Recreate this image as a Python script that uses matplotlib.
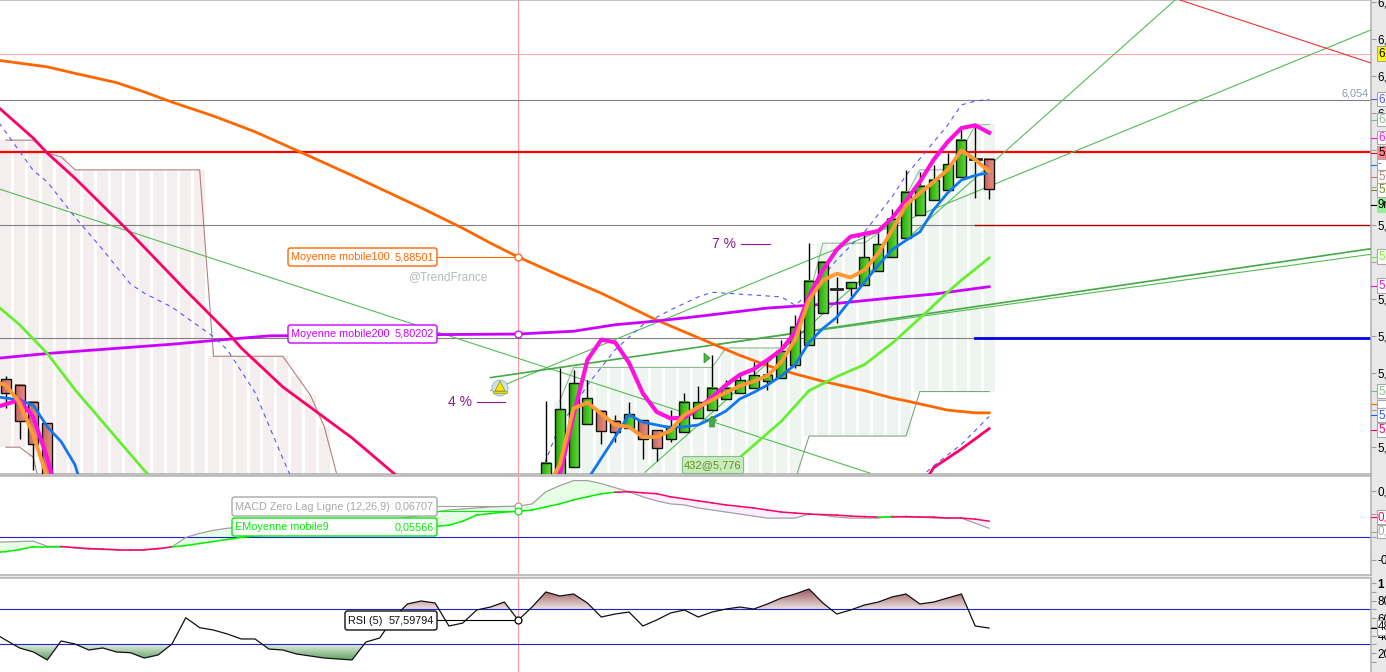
"""
Candles, moving averages, cloud, MACD and RSI panels
"""
import numpy as np
import matplotlib
matplotlib.use('Agg')
import matplotlib.pyplot as plt
from matplotlib.patches import FancyBboxPatch, Rectangle, Circle, Polygon
from matplotlib.colors import LinearSegmentedColormap
from matplotlib.path import Path

plt.rcParams['font.family'] = ['Liberation Sans', 'DejaVu Sans']

W, H = 1386, 672
X_END = 1371
BAR0 = 5.75
STEP = 13.85
CROSS = 37

# ---- candles
candle_idx = [0, 1, 2, 3] + list(range(39, 72))
candle_open = [5.7535, 5.747, 5.729, 5.706,
               5.612, 5.623, 5.659, 5.705, 5.719, 5.708, 5.701, 5.709, 5.698, 5.689, 5.696,
               5.712, 5.720, 5.732, 5.738, 5.744, 5.751, 5.755, 5.769, 5.790, 5.825, 5.850,
               5.852, 5.855, 5.870, 5.885, 5.905, 5.930, 5.946, 5.957, 5.971, 5.991, 5.991]
candle_high = [5.7567, 5.747, 5.729, 5.706,
               5.730, 5.765, 5.763, 5.752, 5.719, 5.715, 5.729, 5.709, 5.698, 5.720, 5.738,
               5.746, 5.779, 5.752, 5.758, 5.772, 5.772, 5.796, 5.823, 5.900, 5.880, 5.863,
               5.858, 5.912, 5.911, 5.937, 5.979, 5.977, 5.984, 5.997, 6.026, 6.026, 5.991]
candle_low = [5.7222, 5.689, 5.655, 5.612,
              5.600, 5.600, 5.659, 5.705, 5.683, 5.686, 5.701, 5.667, 5.665, 5.686, 5.696,
              5.712, 5.720, 5.732, 5.738, 5.744, 5.742, 5.755, 5.765, 5.790, 5.825, 5.814,
              5.843, 5.855, 5.870, 5.885, 5.905, 5.930, 5.946, 5.957, 5.971, 5.949, 5.948]
candle_close = [5.7385, 5.708, 5.683, 5.623,
                5.663, 5.721, 5.749, 5.733, 5.697, 5.696, 5.716, 5.689, 5.679, 5.703, 5.729,
                5.729, 5.744, 5.744, 5.752, 5.758, 5.758, 5.784, 5.810, 5.859, 5.880, 5.850,
                5.858, 5.885, 5.899, 5.926, 5.955, 5.962, 5.968, 5.985, 6.011, 5.991, 5.958]

# ---- moving averages (bar, price)
ma100_i = [-0.5, 3, 5, 8, 10, 12, 15, 18, 21, 25, 30, 33, 35, 37, 40, 43, 47, 50, 53, 55, 57, 59, 62, 64, 65, 68, 70, 71]
ma100 = [6.097, 6.090, 6.083, 6.073, 6.063, 6.052, 6.037, 6.020, 6.000, 5.973, 5.938, 5.916, 5.900, 5.885,
         5.865, 5.846, 5.817, 5.798, 5.779, 5.768, 5.759, 5.751, 5.741, 5.733, 5.730, 5.720, 5.717, 5.717]

ma200_i = [-0.5, 3, 12, 15, 19, 37, 41, 44, 47, 50, 55, 60, 64, 67, 71]
ma200 = [5.776, 5.781, 5.791, 5.795, 5.800, 5.802, 5.805, 5.812, 5.816, 5.821,
         5.830, 5.835, 5.841, 5.845, 5.853]

crimson_i = [-0.5, 2, 3, 5, 9, 13, 16, 17, 20, 22, 25, 28, 32, 40, 50, 60, 66, 67, 69, 71]
crimson = [6.046, 6.013, 5.997, 5.970, 5.911, 5.849, 5.804, 5.787, 5.745, 5.723, 5.690,
           5.652, 5.601, 5.558, 5.515, 5.591, 5.634, 5.658, 5.678, 5.700]

lime_i = [-0.5, 1, 3, 5, 10, 15, 30, 45, 51, 52, 53, 55, 56, 58, 60, 62, 64, 66, 68, 69, 71]
lime = [5.831, 5.812, 5.781, 5.742, 5.655, 5.580, 5.472, 5.560, 5.639, 5.658, 5.669, 5.695, 5.708,
        5.741, 5.756, 5.769, 5.792, 5.819, 5.847, 5.860, 5.884]

bb_up_i = [-0.5, 2, 3, 5, 7, 9, 10, 12, 15, 16, 18, 20, 21, 30, 38, 39, 40, 41, 42, 44, 46, 48,
           50, 51, 53, 55, 56, 57, 58, 60, 62, 64, 65, 67, 68, 69, 70, 71]
bb_up = [6.030, 5.978, 5.966, 5.928, 5.893, 5.856, 5.846, 5.831, 5.799, 5.785, 5.739, 5.668,
         5.634, 5.558, 5.623, 5.666, 5.704, 5.723, 5.747, 5.785, 5.812, 5.828, 5.842, 5.847,
         5.845, 5.843, 5.842, 5.833, 5.846, 5.882, 5.912, 5.950, 5.973, 6.009, 6.027, 6.049,
         6.053, 6.055]
bb_low_i = [66, 67, 69, 71]
bb_low = [5.647, 5.660, 5.683, 5.713]

blue_i = [-0.5, 1, 2, 3, 4, 5, 6, 12, 30, 41] + list(range(42, 72))
blue = [5.734, 5.731, 5.725, 5.702, 5.686, 5.661, 5.612, 5.558, 5.515, 5.601,
        5.645, 5.668, 5.691, 5.715, 5.707, 5.704, 5.701, 5.702, 5.704, 5.711,
        5.719, 5.732, 5.739, 5.747, 5.757, 5.769, 5.793, 5.808, 5.820, 5.839,
        5.858, 5.876, 5.893, 5.903, 5.912, 5.936, 5.954, 5.968, 5.973, 5.976]

magenta_i = [-0.5, 1, 2, 3, 4, 20] + list(range(39, 72))
magenta = [5.724, 5.731, 5.712, 5.668, 5.612, 5.515,
           5.612, 5.650, 5.715, 5.774, 5.796, 5.793, 5.771, 5.738, 5.718, 5.711, 5.712,
           5.722, 5.734, 5.747, 5.758, 5.764, 5.774, 5.785, 5.804, 5.843, 5.871, 5.893,
           5.907, 5.910, 5.913, 5.927, 5.946, 5.966, 5.990, 6.009, 6.024, 6.027, 6.019]

orange_i = [-0.5, 0, 1, 2, 3, 4, 20] + list(range(38, 72))
orange = [5.749, 5.747, 5.728, 5.693, 5.647, 5.591, 5.515,
          5.580, 5.634, 5.661, 5.722, 5.728, 5.716, 5.704, 5.702, 5.691, 5.691, 5.698,
          5.715, 5.723, 5.731, 5.739, 5.746, 5.751, 5.757, 5.772, 5.796, 5.839, 5.860,
          5.867, 5.863, 5.871, 5.889, 5.914, 5.941, 5.954, 5.966, 5.979, 6.000, 5.990, 5.977]

# ---- cloud
cloud_l_i = list(range(0, 25))
cloud_l_top = [6.011, 6.011, 6.011, 5.997, 5.993] + [5.979] * 10 + [5.778] * 6 + [5.757, 5.736, 5.702, 5.645]
cloud_l_bot = [5.680, 5.680, 5.669] + [5.600] * 22
cloud_r_i = list(range(40, 72))
cloud_r_top = [5.730] + [5.766] * 11 + [5.787] * 6 + [5.842] + [5.900] * 4 + [5.911, 5.923, 5.951] \
              + [5.979] * 3 + [6.000, 6.027, 6.028]
cloud_r_bot = [5.600] * 17 + [5.645] + [5.692] * 8 + [5.740] * 6

# ---- horizontal levels and trend lines
level_pink = 6.104
level_gray = 6.054
level_red = 5.998
level_mid = 5.919
level_low = 5.798
trend_green = [([46.16, 84.8], [5.653, 6.167]),
               ([35.0, 98.6], [5.741, 6.130]),
               ([51.0, 98.6], [5.790, 5.888]),
               ([-0.4, 62.4], [5.958, 5.652])]
trend_thick = ([35.0, 98.6], [5.755, 5.894])
trend_red = ([84.8, 98.6], [6.162, 6.094])
price_ticks = [6.16, 6.12, 6.08, 6.04, 6.00, 5.96, 5.92, 5.88, 5.84, 5.80, 5.76, 5.72, 5.68]
price_labels = ['6,', '6,', '6,', '6,', '', '', '5,', '', '5,', '5,', '5,', '', '5,']

# ---- MACD
panel_bars = [-0.5] + list(range(72))
macd_line = [-.0115, -.0111, -.0100, -.0093, -.0206, -.0206, -.0244, -.0266, -.0278, -.0289, -.0289, -.0289, -.0266,
             -.0218, -.0011, .0078, .0144, .0189, .0211, .0233, .0255, .0255, .0266, .0278, .0278,
             .0278, .0300, .0322, .0344, .0389, .0422, .0477, .0544, .0588, .0611, .0633, .0655,
             .0666, .0671, .0722, .0988, .1121, .1232, .1232, .1166, .1077, .0988, .0877, .0788,
             .0722, .0699, .0633, .0588, .0544, .0500, .0455, .0411, .0411, .0411, .0500, .0477,
             .0433, .0411, .0411, .0411, .0455, .0433, .0433, .0411, .0411, .0411, .0300, .0189]
macd_sig = [-.0333, -.0322, -.0278, -.0211, -.0211, -.0211, -.0233, -.0255, -.0266, -.0278, -.0278, -.0278, -.0255,
            -.0218, -.0189, -.0144, -.0100, -.0056, -.0011, .0022, .0044, .0056, .0056, .0078, .0100,
            .0122, .0122, .0144, .0167, .0189, .0200, .0211, .0233, .0255, .0344, .0477, .0511,
            .0544, .0557, .0588, .0655, .0722, .0810, .0877, .0944, .0977, .0988, .0966, .0944,
            .0877, .0833, .0788, .0744, .0699, .0666, .0633, .0588, .0544, .0522, .0500, .0488,
            .0477, .0455, .0444, .0433, .0433, .0444, .0433, .0433, .0411, .0411, .0389, .0344]
macd_ticks = [0.10, 0.05, 0.0, -0.05]
macd_labels = ['0,', '', '', '-0']

# ---- RSI
rsi = [39.5, 34.9, 25.8, 21.2, 12.1, 33.8, 30.3, 23.5, 25.8, 21.2, 20.4, 14.3, 17.8, 30.3, 60.4, 49.0,
       46.3, 41.8, 36.1, 36.1, 24.6, 23.5, 18.9, 16.6, 14.3, 13.2, 12.1, 32.6, 37.2, 60.1, 76.1,
       79.5, 77.2, 50.9, 54.3, 69.2, 72.6, 78.3, 57.6, 72.6, 89.8, 85.2, 87.5, 77.2, 61.2, 64.6,
       66.9, 50.9, 57.8, 65.8, 69.2, 61.2, 66.9, 70.3, 72.6, 70.3, 76.1, 82.9, 87.5, 93.2, 77.2,
       64.6, 69.2, 74.9, 78.3, 84.1, 87.5, 76.1, 78.3, 82.9, 87.5, 50.9, 48.6]
rsi_ticks = [100, 80, 60, 40, 20]
rsi_labels = ['1', '80', '60', '40', '20']
rsi_minor = [90, 70, 50, 30, 10]

MA100_VAL, MA200_VAL = 5.88501, 5.80202
MACD_VAL, SIG_VAL, RSI_VAL = 0.06707, 0.05566, 57.59794

LINE_GREEN = '#55bb55'
SEP = '#b0b0b0'
FS = 7.8
TICK_FS = 8.4
THIN = 0.8

candle_green = LinearSegmentedColormap.from_list('cg', ['#2aa50a', '#5cd838'])
candle_red = LinearSegmentedColormap.from_list('cr', ['#c4665a', '#e58c82'])
gradient = np.linspace(0, 1, 16)[None, :]


def px_to_bar(x):
  return (x - BAR0) / STEP


def make_axes(y_top, y_bot, ylim):
  ax = fig.add_axes([0, 1 - y_bot / H, X_END / W, (y_bot - y_top) / H])
  ax.set_xlim(px_to_bar(0), px_to_bar(X_END))
  ax.set_ylim(*ylim)
  ax.set_facecolor('white')
  ax.set_xticks([])
  ax.yaxis.tick_right()
  ax.tick_params(axis='y', which='both', length=3.6, width=0.8, color='#a0a0a0', pad=1.2, labelsize=TICK_FS)
  for side in ['top', 'bottom', 'right']:
    ax.spines[side].set_color(SEP)
    ax.spines[side].set_linewidth(1.1)
  ax.spines['left'].set_visible(False)
  ax.axvline(CROSS, color='#ff9a9a', lw=THIN, zorder=2)
  return ax


def label_box(x0, x1, y0, y1, left, right, color, tcolor=None):
  tcolor = tcolor or color
  ov.add_patch(FancyBboxPatch((x0 + 2, y0 + 2), x1 - x0 - 4, y1 - y0 - 4, boxstyle='round,pad=2,rounding_size=2.5',
                              fc='white', ec=color, lw=1, zorder=5))
  ym = (y0 + y1) / 2
  ov.text(x0 + 3, ym, left, color=tcolor, fontsize=FS, va='center', ha='left', zorder=6)
  ov.text(x1 - 3, ym, right, color=tcolor, fontsize=FS, va='center', ha='right', zorder=6)


def axis_tag(y0, y1, text, color, fill='white', edge='#a8a8a8', tick=None):
  ov.add_patch(Rectangle((1376.5, y0), 14, y1 - y0, fc=fill, ec=edge, lw=0.8, zorder=5))
  ov.text(1378, (y0 + y1) / 2, text, color=color, fontsize=TICK_FS, va='center', ha='left', zorder=6)
  if tick:
    ov.plot([1371, 1376], [(y0 + y1) / 2] * 2, color=tick, lw=THIN, zorder=5)


fig = plt.figure(figsize=(W / 100, H / 100), dpi=100, facecolor='#e9e9e9')

#####################
# Main price panel
#####################
ax = make_axes(0, 474, (6.16207 - 0.001078 * 474, 6.16207))
main_xlim, main_ylim = ax.get_xlim(), ax.get_ylim()

ax.bar(cloud_l_i, np.array(cloud_l_top) - np.array(cloud_l_bot), bottom=cloud_l_bot, width=0.78,
       color='#f4eeef', zorder=1)
ax.plot(cloud_l_i, cloud_l_top, color='#b58080', lw=THIN, zorder=2)
ax.plot(cloud_l_i, cloud_l_bot, color='#b58080', lw=THIN, zorder=2)
ax.bar(cloud_r_i, np.array(cloud_r_top) - np.array(cloud_r_bot), bottom=cloud_r_bot, width=0.78,
       color='#eef5f0', zorder=1)
ax.plot(cloud_r_i, cloud_r_top, color='#8fbb8f', lw=THIN, zorder=2)
ax.plot(cloud_r_i, cloud_r_bot, color='#7fa57f', lw=THIN, zorder=2)

split = px_to_bar(975)
ax.axhline(level_pink, color='#ffaaaa', lw=THIN, zorder=2)
ax.axhline(level_gray, color='#808080', lw=THIN, zorder=2)
ax.axhline(level_red, color='#ff0000', lw=1.6, zorder=2)
ax.plot([px_to_bar(0), split], [level_mid] * 2, color='#808080', lw=THIN, zorder=2)
ax.plot([split, px_to_bar(X_END)], [level_mid] * 2, color='#aa0000', lw=1, zorder=2)
ax.plot([px_to_bar(0), split], [level_low] * 2, color='#808080', lw=THIN, zorder=2)
ax.plot([split, px_to_bar(X_END)], [level_low] * 2, color='#0000ee', lw=2, zorder=2)

for xs, ys in trend_green:
  ax.plot(xs, ys, color=LINE_GREEN, lw=THIN, zorder=3)
ax.plot(*trend_thick, color='#44aa44', lw=1.2, zorder=3)
ax.plot(*trend_red, color='#ee3333', lw=THIN, zorder=3)

ax.plot(ma100_i, ma100, color='#ff6600', lw=2, zorder=3)
ax.plot(ma200_i, ma200, color='#cc00ff', lw=2, zorder=3)
ax.plot(crimson_i, crimson, color='#ff0066', lw=2, zorder=3)
ax.plot(lime_i, lime, color='#66ee33', lw=2, zorder=3)
ax.plot(bb_up_i, bb_up, color='#5555ff', lw=THIN, ls=(0, (4, 4)), zorder=3)
ax.plot(bb_low_i, bb_low, color='#5555ff', lw=THIN, ls=(0, (4, 4)), zorder=3)

for i, o, h, l, c in zip(candle_idx, candle_open, candle_high, candle_low, candle_close):
  ax.vlines(i, l, h, color='black', lw=1, zorder=4)
  if o == c:
    ax.plot([i - 0.38, i + 0.38], [o, o], color='#222222', lw=2, zorder=4)
  else:
    lo, hi = min(o, c), max(o, c)
    ax.imshow(gradient, cmap=candle_green if c > o else candle_red, aspect='auto',
              extent=(i - 0.36, i + 0.36, lo, hi), zorder=4.1)
    ax.add_patch(Rectangle((i - 0.36, lo), 0.72, hi - lo, fc='none', ec='#111111', lw=1, zorder=4.2))
ax.set_xlim(*main_xlim)
ax.set_ylim(*main_ylim)

ax.plot(blue_i, blue, color='#1177ee', lw=2, zorder=5)
ax.plot(magenta_i, magenta, color='#ff11dd', lw=3, zorder=5)
ax.plot(orange_i, orange, color='#ff9933', lw=2.8, zorder=6)

# percent marks
ax.plot([px_to_bar(477), px_to_bar(505)], [5.729] * 2, color='#8a1a8a', lw=THIN, zorder=3)
ax.plot([px_to_bar(741), px_to_bar(770)], [5.899] * 2, color='#8a1a8a', lw=THIN, zorder=3)

# crosshair read-outs
ax.plot([px_to_bar(437), CROSS], [MA100_VAL] * 2, color='#ff6600', lw=THIN, zorder=6)
ax.plot([px_to_bar(437), CROSS], [MA200_VAL] * 2, color='#cc00ff', lw=THIN, zorder=6)
ax.plot(CROSS, MA100_VAL, 'o', mfc='white', mec='#ff6600', ms=5, mew=0.9, zorder=7)
ax.plot(CROSS, MA200_VAL, 'o', mfc='white', mec='#cc00ff', ms=5, mew=0.9, zorder=7)

ax.set_yticks(price_ticks, price_labels)

#####################
# MACD panel
#####################
ax2 = make_axes(475.5, 575, (-0.0833, 0.1343))
bars = np.array(panel_bars)
m, s = np.array(macd_line), np.array(macd_sig)
ax2.axhline(0, color='#2222cc', lw=THIN, zorder=2)
ax2.fill_between(bars, m, s, where=m >= s, interpolate=True, color='#e6ffe6', lw=0, zorder=1)
ax2.fill_between(bars, m, s, where=m <= s, interpolate=True, color='#ffeeff', lw=0, zorder=1)
ax2.plot(bars, m, color='#a0a0a0', lw=0.9, zorder=3)
for i in range(len(bars) - 1):
  col = '#00ee00' if m[i + 1] > s[i + 1] else '#ff0066'
  ax2.plot(bars[i:i + 2], s[i:i + 2], color=col, lw=1.1, zorder=4)
ax2.plot([px_to_bar(437), CROSS], [MACD_VAL] * 2, color='#a0a0a0', lw=THIN, zorder=4)
ax2.plot([px_to_bar(437), CROSS], [SIG_VAL] * 2, color='#00ee00', lw=THIN, zorder=4)
ax2.plot(CROSS, MACD_VAL, 'o', mfc='white', mec='#a0a0a0', ms=5, mew=0.9, zorder=7)
ax2.plot(CROSS, SIG_VAL, 'o', mfc='white', mec='#00ee00', ms=5, mew=0.9, zorder=7)
ax2.set_yticks(macd_ticks, macd_labels)

#####################
# RSI panel
#####################
rsi_ylim = ((609.3 - 673) / 0.875 + 70, (609.3 - 578) / 0.875 + 70)
ax3 = make_axes(578, H + 1, rsi_ylim)
r = np.array(rsi)
brown = LinearSegmentedColormap.from_list('b', ['#eadfdf', '#96504f'])
green = LinearSegmentedColormap.from_list('g', ['#e0efe0', '#5c9c5c'])
x0, x1 = ax3.get_xlim()
up = ax3.fill_between(bars, r, 70, where=r >= 70, interpolate=True, color='none', lw=0)
im = ax3.imshow(np.linspace(1, 0, 64)[:, None], cmap=brown, aspect='auto', extent=(x0, x1, 70, 94), zorder=1)
im.set_clip_path(Path.make_compound_path(*up.get_paths()), transform=ax3.transData)
dn = ax3.fill_between(bars, r, 30, where=r <= 30, interpolate=True, color='none', lw=0)
im2 = ax3.imshow(np.linspace(0, 1, 64)[:, None], cmap=green, aspect='auto', extent=(x0, x1, 11, 30), zorder=1)
im2.set_clip_path(Path.make_compound_path(*dn.get_paths()), transform=ax3.transData)
ax3.set_xlim(x0, x1)
ax3.set_ylim(*rsi_ylim)
ax3.axhline(70, color='#2222cc', lw=THIN, zorder=2)
ax3.axhline(30, color='#2222cc', lw=THIN, zorder=2)
ax3.plot(bars, r, color='#111111', lw=0.9, zorder=3)
ax3.plot([px_to_bar(437), CROSS], [RSI_VAL] * 2, color='black', lw=THIN, zorder=4)
ax3.plot(CROSS, RSI_VAL, 'o', mfc='white', mec='black', ms=5, mew=0.9, zorder=7)
ax3.set_yticks(rsi_ticks, rsi_labels)
ax3.set_yticks(rsi_minor, minor=True)
ax3.get_yticklabels()[0].set_fontweight('bold')

#####################
# Overlay: labels, tags, icons in pixel space
#####################
ov = fig.add_axes([0, 0, 1, 1], zorder=10)
ov.set_xlim(0, W)
ov.set_ylim(H, 0)
ov.axis('off')

label_box(288, 437, 248, 266, 'Moyenne mobile100', '5,88501', '#ff6600')
label_box(288, 437, 325, 343, 'Moyenne mobile200', '5,80202', '#cc00ff')
label_box(232, 437, 497, 516, 'MACD Zero Lag Ligne (12,26,9)', '0,06707', '#a8a8a8')
label_box(232, 437, 518, 536, 'EMoyenne mobile9', '0,05566', '#00ee00')
label_box(345, 437, 611, 630, 'RSI (5)', '57,59794', '#111111')

ov.text(408, 277, '@TrendFrance', color='#b4bcbc', fontsize=8.6, va='center')
ov.text(448, 402, '4 %', color='#8a1a8a', fontsize=10, va='center')
ov.text(712, 244, '7 %', color='#8a1a8a', fontsize=10, va='center')
ov.text(1369, 93, '6,054', color='#8a9aaa', fontsize=7.8, va='center', ha='right')

# 432@5,776 tag
ov.add_patch(FancyBboxPatch((684, 458), 58, 14, boxstyle='round,pad=1.5,rounding_size=2', fc='#c8ecc0', ec='#88bb88',
                            lw=0.8, zorder=5))
ov.text(713, 465, '432@5,776', color='#6a8a20', fontsize=8, va='center', ha='center', zorder=6)

# alert bell
ov.add_patch(Circle((500, 388), 8, fc='#cfe2ea', ec='#a8c0c8', lw=0.8, zorder=5))
ov.add_patch(Polygon([[500, 381], [495, 391], [505, 391]], fc='#f5e800', ec='#8a8a20', lw=0.5, zorder=6))
ov.add_patch(Rectangle((493, 391), 14, 2, fc='#e8d800', ec='#8a8a20', lw=0.4, zorder=6))

# signal marks
ov.add_patch(Polygon([[704, 353], [704, 363], [710, 358]], fc='#44bb44', ec='#228822', lw=0.5, zorder=6))
ov.add_patch(Polygon([[712, 416], [717, 421], [714.5, 421], [714.5, 427], [709.5, 427], [709.5, 421], [707, 421]],
                     fc='#44aa44', ec='#228822', lw=0.4, zorder=6))

# right axis tags
axis_tag(46, 61, '6,', 'black', fill='#ffff00')
axis_tag(92, 106, '6,', '#5555ff', tick='#5555ff')
axis_tag(113, 126, '6,', '#88b888', tick='#88b888')
axis_tag(131, 144, '6,', '#ff11dd', tick='#ff11dd')
axis_tag(146, 159, '5,', 'black', fill='#ff8888', tick='#ff0000')
axis_tag(159, 170, '-', '#1177ee', tick='#1177ee')
axis_tag(170, 183, '5,', '#b58080', tick='#b58080')
axis_tag(183, 197, '5,', '#778822', tick='#778822')
axis_tag(198, 212, '9m', 'black', fill='#99ee99', edge='#99ee99', tick='black')
axis_tag(249, 264, '5,', '#77ee33', tick='#77ee33')
axis_tag(278, 293, '5,', '#ee11ee', tick='#ee11ee')
axis_tag(384, 398, '5,', '#88b888', tick='#88b888')
axis_tag(400, 408, '', '#ff6600', tick='#ff6600')
axis_tag(408, 422, '5,', '#2255ff', tick='#2255ff')
axis_tag(423, 437, '5,', '#ff0066', tick='#ff0066')
axis_tag(510, 524, '0,', '#ff0066', tick='#ff0066')
axis_tag(525, 538, '0,', '#a8a8a8', tick='#a8a8a8')
axis_tag(620, 635, '48', '#111111', tick='#111111')

fig.savefig('out.png', dpi=100, facecolor=fig.get_facecolor())
